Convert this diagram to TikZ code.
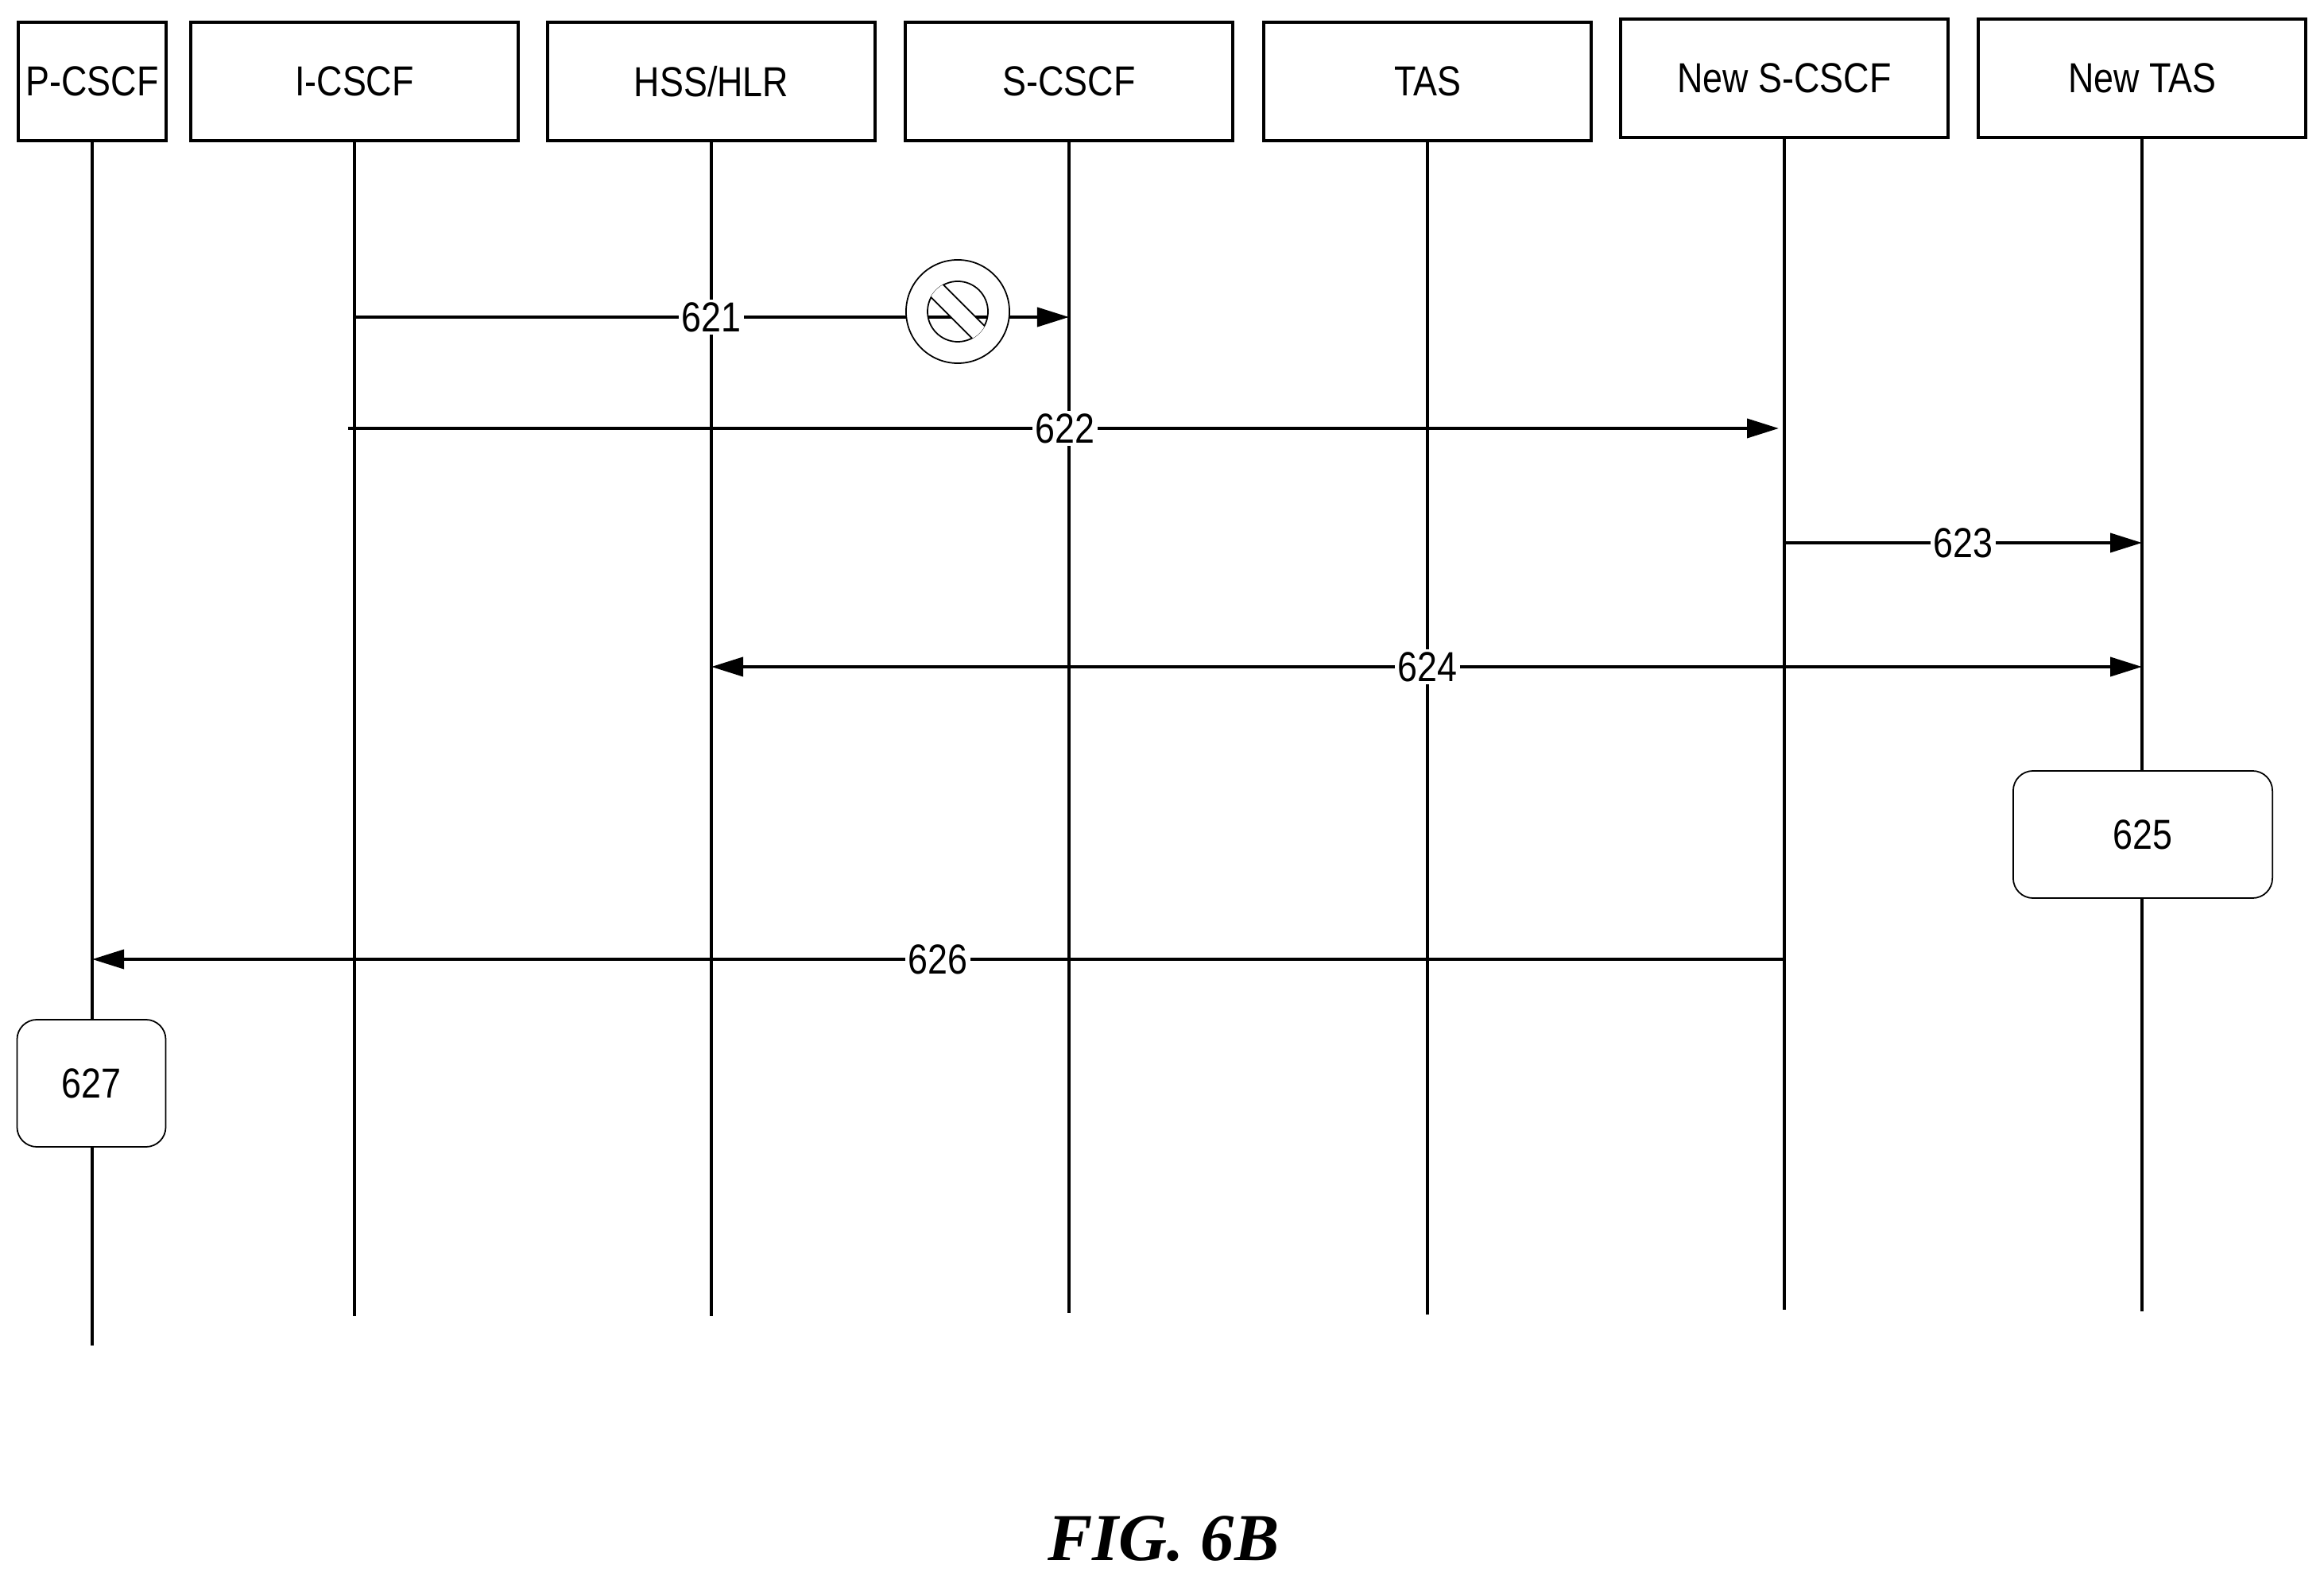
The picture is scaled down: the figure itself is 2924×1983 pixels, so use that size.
\documentclass[tikz,border=0pt]{standalone}
\usepackage{fontspec}
\setmainfont{Liberation Sans}[FakeStretch=0.85]
\newfontfamily\capfont{Liberation Serif}
\usetikzlibrary{arrows.meta,calc}
\begin{document}
\begin{tikzpicture}[x=0.01cm,y=-0.01cm,
  ent/.style={draw,line width=1.1pt,minimum height=1.49cm,inner sep=1pt,font=\fontsize{15}{18}\selectfont,anchor=north},
  life/.style={line width=1.1pt},
  msg/.style={line width=1.1pt,-{Triangle[length=0.4cm,width=0.24cm]}},
  lbl/.style={fill=white,inner sep=1pt,font=\fontsize{15}{18}\selectfont},
  act/.style={draw,rounded corners=0.25cm,fill=white,line width=0.5pt,font=\fontsize{15}{18}\selectfont}]
\useasboundingbox (0,0) rectangle (2924,1983);
% entities
\node[ent,minimum width=1.86cm] (pcscf) at (116,26){P-CSCF};
\node[ent,minimum width=4.12cm] (icscf) at (446,26){I-CSCF};
\node[ent,minimum width=4.12cm] (hss) at (895,26){HSS/HLR};
\node[ent,minimum width=4.12cm] (scscf) at (1345,26){S-CSCF};
\node[ent,minimum width=4.12cm] (tas) at (1796,26){TAS};
\node[ent,minimum width=4.12cm] (nscscf) at (2245,22){New S-CSCF};
\node[ent,minimum width=4.12cm] (ntas) at (2695,22){New TAS};
% lifelines
\coordinate (pend) at (116,1693);
\coordinate (iend) at (446,1656);
\coordinate (hend) at (895,1656);
\coordinate (send) at (1345,1652);
\coordinate (tend) at (1796,1654);
\coordinate (nsend) at (2245,1648);
\coordinate (ntend) at (2695,1650);
\draw[life] (pcscf) -- (pend);
\draw[life] (icscf) -- (iend);
\draw[life] (hss) -- (hend);
\draw[life] (scscf) -- (send);
\draw[life] (tas) -- (tend);
\draw[life] (nscscf) -- (nsend);
\draw[life] (ntas) -- (ntend);
% messages
\coordinate (a1) at (446,399); \coordinate (b1) at (1345,399);
\draw[msg] (a1) -- (b1);
\node[lbl] (m621) at (895,399){621};
\coordinate (a2) at (438,539); \coordinate (b2) at (2238,539);
\draw[msg] (a2) -- (b2);
\node[lbl] (m622) at (1340,539){622};
\coordinate (a3) at (2245,683); \coordinate (b3) at (2695,683);
\draw[msg] (a3) -- (b3);
\node[lbl] (m623) at (2470,683){623};
\coordinate (a4) at (895,839); \coordinate (b4) at (2695,839);
\draw[msg,{Triangle[length=0.4cm,width=0.24cm]}-{Triangle[length=0.4cm,width=0.24cm]}] (a4) -- (b4);
\node[lbl] (m624) at (1796,839){624};
\node[act,minimum width=3.26cm,minimum height=1.6cm] (s625) at (2696,1050){625};
\coordinate (a6) at (2245,1207); \coordinate (b6) at (116,1207);
\draw[msg] (a6) -- (b6);
\node[lbl] (m626) at (1180,1207){626};
\node[act,minimum width=1.87cm,minimum height=1.6cm] (s627) at (115,1363){627};
% blocked sign
\coordinate (blk) at (1205,392);
\fill[white,even odd rule] (blk) circle (0.65cm) (blk) circle (0.38cm);
\draw[line width=0.5pt] (blk) circle (0.65cm) (blk) circle (0.38cm);
\begin{scope}
\clip (blk) circle (0.385cm);
\fill[white,rotate around={-45:(blk)}] ($(blk)+(-50,-11)$) rectangle ($(blk)+(50,11)$);
\draw[line width=0.5pt,rotate around={-45:(blk)}] ($(blk)+(-50,-11)$) -- ($(blk)+(50,-11)$) ($(blk)+(-50,11)$) -- ($(blk)+(50,11)$);
\end{scope}
% caption
\node[font=\capfont\bfseries\itshape\fontsize{24}{28}\selectfont] (fig) at (1464,1936){FIG. 6B};
\end{tikzpicture}
\end{document}
